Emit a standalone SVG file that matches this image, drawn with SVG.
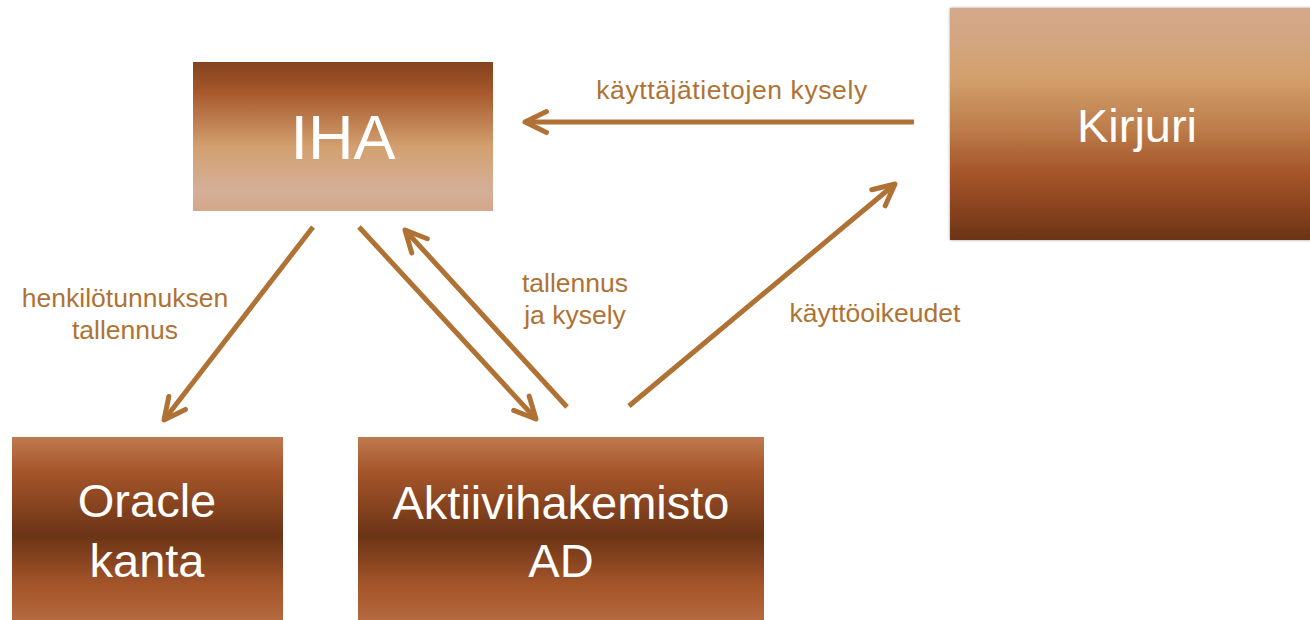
<svg xmlns="http://www.w3.org/2000/svg" width="1310" height="620" viewBox="0 0 1310 620">
  <style>
    .node-text { font-family: "Liberation Sans", Arial, sans-serif; fill: #ffffff; text-anchor: middle; }
    .lbl { font-family: "Liberation Sans", Arial, sans-serif; font-size: 26.5px; fill: #B07234; text-anchor: middle; }
    .conn { stroke: #B07234; stroke-width: 5; fill: none; marker-end: url(#ah); }
  </style>
  <defs>
    <linearGradient id="gIHA" x1="0" y1="0" x2="0" y2="1">
      <stop offset="0" stop-color="#84421F"/>
      <stop offset="0.19" stop-color="#A5562A"/>
      <stop offset="0.57" stop-color="#D3A06F"/>
      <stop offset="0.86" stop-color="#D4AF98"/>
      <stop offset="1" stop-color="#D3A789"/>
    </linearGradient>
    <linearGradient id="gKir" x1="0" y1="0" x2="0" y2="1">
      <stop offset="0" stop-color="#D4A88B"/>
      <stop offset="0.11" stop-color="#D3A784"/>
      <stop offset="0.30" stop-color="#D2A06C"/>
      <stop offset="0.51" stop-color="#BE7E4D"/>
      <stop offset="0.71" stop-color="#A6552A"/>
      <stop offset="0.86" stop-color="#8A441F"/>
      <stop offset="1" stop-color="#6C3416"/>
    </linearGradient>
    <linearGradient id="gLow" x1="0" y1="0" x2="0" y2="1">
      <stop offset="0" stop-color="#C07A4F"/>
      <stop offset="0.18" stop-color="#A6552A"/>
      <stop offset="0.52" stop-color="#6B3416"/>
      <stop offset="0.78" stop-color="#A5552A"/>
      <stop offset="1" stop-color="#B76D42"/>
    </linearGradient>
    <filter id="soft" x="-5%" y="-5%" width="110%" height="110%">
      <feDropShadow dx="0" dy="0" stdDeviation="1.5" flood-color="#808080" flood-opacity="0.8"/>
    </filter>
    <marker id="ah" markerUnits="userSpaceOnUse" markerWidth="40" markerHeight="40" viewBox="-30 -20 40 40" refX="0" refY="0" orient="auto" overflow="visible">
      <path d="M-21.5,-10.5 L0,0 L-21.5,10.5" fill="none" stroke="#B07234" stroke-width="5" stroke-linecap="round" stroke-linejoin="round"/>
    </marker>
  </defs>

  <g id="connectors">
    <line class="conn" x1="914" y1="122" x2="525" y2="122"/>
    <line class="conn" x1="313" y1="227" x2="164" y2="420"/>
    <line class="conn" x1="359" y1="227" x2="536" y2="419"/>
    <line class="conn" x1="567" y1="407" x2="405" y2="230"/>
    <line class="conn" x1="629" y1="406" x2="895" y2="184"/>
  </g>

  <g id="labels">
    <text class="lbl" x="732" y="99" letter-spacing="0.6">käyttäjätietojen kysely</text>
    <text class="lbl" x="125" y="307">henkilötunnuksen</text>
    <text class="lbl" x="125" y="339">tallennus</text>
    <text class="lbl" x="575" y="292">tallennus</text>
    <text class="lbl" x="575" y="324">ja kysely</text>
    <text class="lbl" x="875" y="322">käyttöoikeudet</text>
  </g>

  <g id="node-iha">
    <rect x="193" y="62" width="300" height="149" fill="url(#gIHA)"/>
    <text class="node-text" x="343" y="159" font-size="63">IHA</text>
  </g>

  <g id="node-kirjuri">
    <rect x="950" y="8" width="364" height="232" fill="url(#gKir)" filter="url(#soft)"/>
    <text class="node-text" x="1137" y="142" font-size="47">Kirjuri</text>
  </g>

  <g id="node-oracle">
    <rect x="12" y="437" width="271" height="190" fill="url(#gLow)"/>
    <text class="node-text" x="147" y="517" font-size="47">Oracle</text>
    <text class="node-text" x="147" y="577" font-size="47">kanta</text>
  </g>

  <g id="node-ad">
    <rect x="358" y="437" width="406" height="190" fill="url(#gLow)"/>
    <text class="node-text" x="561" y="519" font-size="47">Aktiivihakemisto</text>
    <text class="node-text" x="561" y="577" font-size="47">AD</text>
  </g>
</svg>
